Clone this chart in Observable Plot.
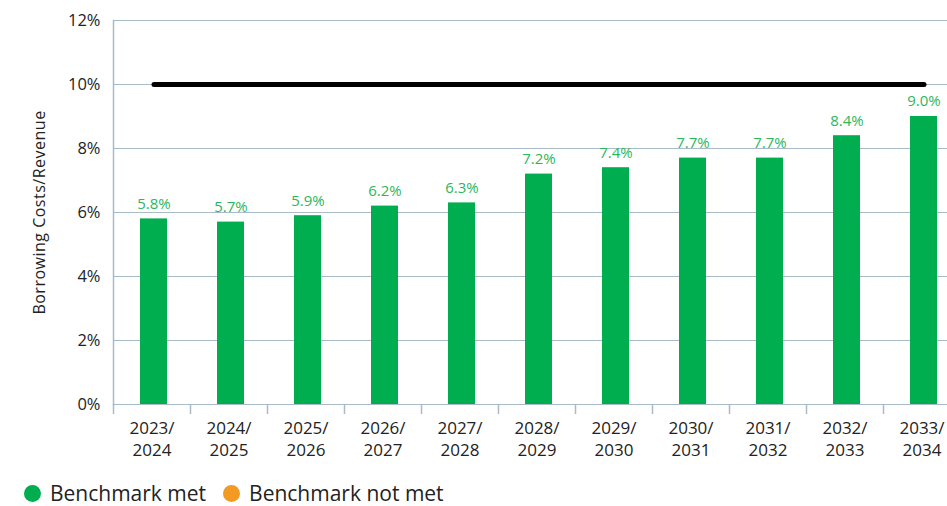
<!DOCTYPE html>
<html>
<head>
<meta charset="utf-8">
<script src="https://cdn.jsdelivr.net/npm/d3@7"></script>
<script src="https://cdn.jsdelivr.net/npm/@observablehq/plot@0.6"></script>
<style>
  html, body { margin: 0; padding: 0; background: #fff; overflow: hidden; width: 947px; height: 506px; }
  #chart { position: relative; width: 960px; }
  .legend { position: absolute; left: 24px; top: 479px; display: flex; align-items: center; font-family: "Open Sans", sans-serif; font-size: 21px; color: #222; }
  .legend .item { display: flex; align-items: center; margin-right: 17px; }
  .legend .dot { width: 17px; height: 17px; border-radius: 50%; margin-right: 9px; }
</style>
</head>
<body>
<div id="chart"></div>
<script>
const years = ["2023/\n2024","2024/\n2025","2025/\n2026","2026/\n2027","2027/\n2028","2028/\n2029","2029/\n2030","2030/\n2031","2031/\n2032","2032/\n2033","2033/\n2034"];
const ratio = [5.8,5.7,5.9,6.2,6.3,7.2,7.4,7.7,7.7,8.4,9.0];
const benchmark = 10;
const yTicks = [0,2,4,6,8,10,12];
const legendItems = [{label: "Benchmark met", color: "#00ad4f"}, {label: "Benchmark not met", color: "#f29a22"}];

const data = years.map((y, i) => ({year: y, value: ratio[i], bench: benchmark}));
const gridColor = "#a9bac8";

const plot = Plot.plot({
  width: 960,
  height: 470,
  marginTop: 20,
  marginBottom: 66,
  marginLeft: 113,
  marginRight: 0,
  style: {fontFamily: "'Open Sans', sans-serif", background: "#fff"},
  x: {domain: years, padding: 0},
  y: {domain: [0, 12]},
  marks: [
    Plot.gridY(yTicks, {stroke: gridColor, strokeOpacity: 1, strokeWidth: 1.2}),
    Plot.frame({anchor: "left", stroke: gridColor, strokeWidth: 1.5}),
    Plot.axisY(yTicks, {tickSize: 0, tickPadding: 13, tickFormat: d => d + "%", fontSize: 16.5, fill: "#222",
      label: "Borrowing Costs/Revenue", labelAnchor: "center", labelArrow: "none", labelOffset: 80}),
    Plot.axisX({tickSize: 10, tickFormat: null, dx: -38.5, stroke: gridColor, strokeWidth: 1.5, label: null}),
    Plot.axisX({tickSize: 0, tickPadding: 14, fontSize: 17, fill: "#222", lineHeight: 1.3, label: null}),
    Plot.barY(data, {x: "year", y: "value", fill: "#00ad4f", insetLeft: 27, insetRight: 23}),
    Plot.text(data, {x: "year", y: "value", text: d => d.value.toFixed(1) + "%", dy: -15, dx: 2, fill: "#2cb75c", fontSize: 15}),
    Plot.lineY(data, {x: "year", y: "bench", stroke: "#000", strokeWidth: 5, strokeLinecap: "round", dx: 2})
  ]
});

const chart = document.getElementById("chart");
chart.appendChild(plot);
plot.querySelectorAll("text").forEach(t => {
  if (t.textContent === "Borrowing Costs/Revenue") {
    t.setAttribute("font-size", 16);
    t.setAttribute("letter-spacing", 0.5);
  }
});
const legend = document.createElement("div");
legend.className = "legend";
legendItems.forEach(it => {
  const d = document.createElement("div");
  d.className = "item";
  d.innerHTML = `<span class="dot" style="background:${it.color}"></span><span>${it.label}</span>`;
  legend.appendChild(d);
});
chart.appendChild(legend);
</script>
</body>
</html>
